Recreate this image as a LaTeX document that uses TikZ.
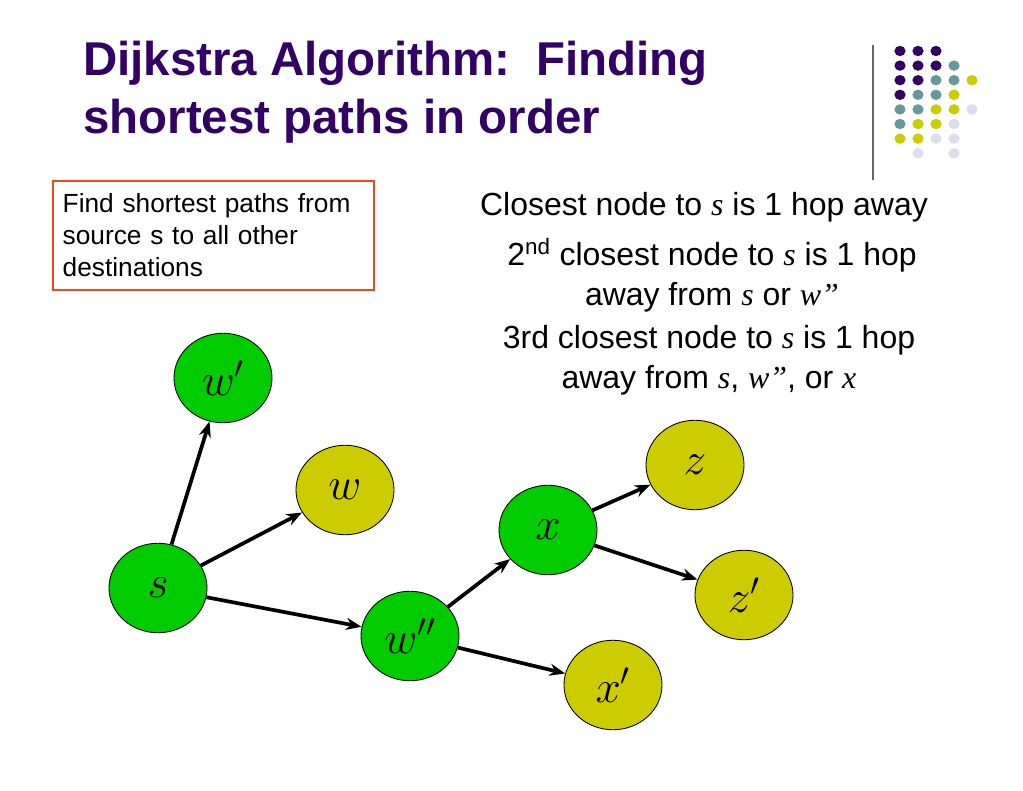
\RequirePackage{fix-cm}
\documentclass[tikz,border=0pt]{standalone}
\usepackage{fontspec}
\setmainfont{Liberation Sans}
\newfontfamily\tmsfont{Liberation Serif}
\usetikzlibrary{shapes.geometric, arrows.meta, positioning}
\definecolor{slidepurple}{HTML}{330066}
\definecolor{slideteal}{HTML}{669999}
\definecolor{slideolive}{HTML}{CCCC00}
\definecolor{slidelilac}{HTML}{DDDDEE}
\definecolor{nodegreen}{HTML}{00CC00}
\definecolor{boxred}{HTML}{F04A1A}
\newcommand{\vit}[1]{{\tmsfont\itshape #1}}

\begin{document}
\begin{tikzpicture}[
    x=0.704pt, y=-0.704pt,
    every node/.style={font=\fontsize{22}{28}\selectfont},
    titletext/.style={anchor=west, inner sep=0pt, text=slidepurple, font=\fontsize{33.4}{40}\selectfont\bfseries},
    hoptext/.style={align=center, inner sep=0pt, font=\fontsize{22.5}{28}\selectfont},
    gnode/.style={ellipse, draw=black, line width=0.6pt, fill=#1, minimum width=69pt, minimum height=63pt, inner sep=0pt, font=\fontsize{32}{36}\selectfont},
    hop/.style={-{Stealth[length=11pt, width=8.5pt]}, line width=2.6pt, black},
]
\useasboundingbox (0,0) rectangle (1023,791);

% title and logo
\node[titletext] (t1) at (83,63) {Dijkstra Algorithm:\ \ Finding};
\node[titletext] (t2) at (83,121) {shortest paths in order};
\draw[gray!80!black, line width=0.8pt] (873,45) -- (873,180);
\foreach \row/\cols in {0/{slidepurple,slidepurple,slidepurple,white,white},
                        1/{slidepurple,slidepurple,slidepurple,slideteal,white},
                        2/{slidepurple,slidepurple,slideteal,slideteal,slideolive},
                        3/{slidepurple,slideteal,slideteal,slideolive,white},
                        4/{slideteal,slideteal,slideolive,slideolive,slidelilac},
                        5/{slideteal,slideolive,slideolive,slidelilac,white},
                        6/{slideolive,slideolive,slidelilac,slidelilac,white},
                        7/{white,slidelilac,white,slidelilac,white}}{
  \foreach \c [count=\col from 0] in \cols {
    \fill[\c] (900+18*\col, 51+14.6*\row) ellipse (5.6 and 5.2);
  }
}

% task box
\node[draw=boxred, line width=1.1pt, anchor=north west, minimum width=224pt, minimum height=77pt,
      text width=212pt, align=left, inner xsep=7pt, inner ysep=4pt,
      font=\fontsize{18.5}{22.5}\selectfont] (task) at (52,180)
      {Find shortest paths from\\source s to all other\\destinations};

% hop statements
\node[hoptext] (h1) at (704,207) {Closest node to \vit{s} is 1 hop away};
\node[hoptext] (h2) at (712,275) {2\textsuperscript{nd} closest node to \vit{s} is 1 hop\\away from \vit{s} or \vit{w”}};
\node[hoptext] (h3) at (709,360) {3rd closest node to \vit{s} is 1 hop\\away from \vit{s}, \vit{w”}, or \vit{x}};

% graph
\node[gnode=nodegreen] (s) at (158,588) {$s$};
\node[gnode=nodegreen] (wp) at (223,378) {$w'$};
\node[gnode=slideolive] (w) at (345,490) {$w$};
\node[gnode=nodegreen] (wpp) at (410,636) {$w''$};
\node[gnode=nodegreen] (x) at (548,530) {$x$};
\node[gnode=slideolive] (xp) at (613,685) {$x'$};
\node[gnode=slideolive] (z) at (695,465) {$z$};
\node[gnode=slideolive] (zp) at (744,595) {$z'$};

\draw[hop] (s) -- (wp);
\draw[hop] (s) -- (w);
\draw[hop] (s) -- (wpp);
\draw[hop] (wpp) -- (x);
\draw[hop] (wpp) -- (xp);
\draw[hop] (x) -- (z);
\draw[hop] (x) -- (zp);

\end{tikzpicture}
\end{document}
